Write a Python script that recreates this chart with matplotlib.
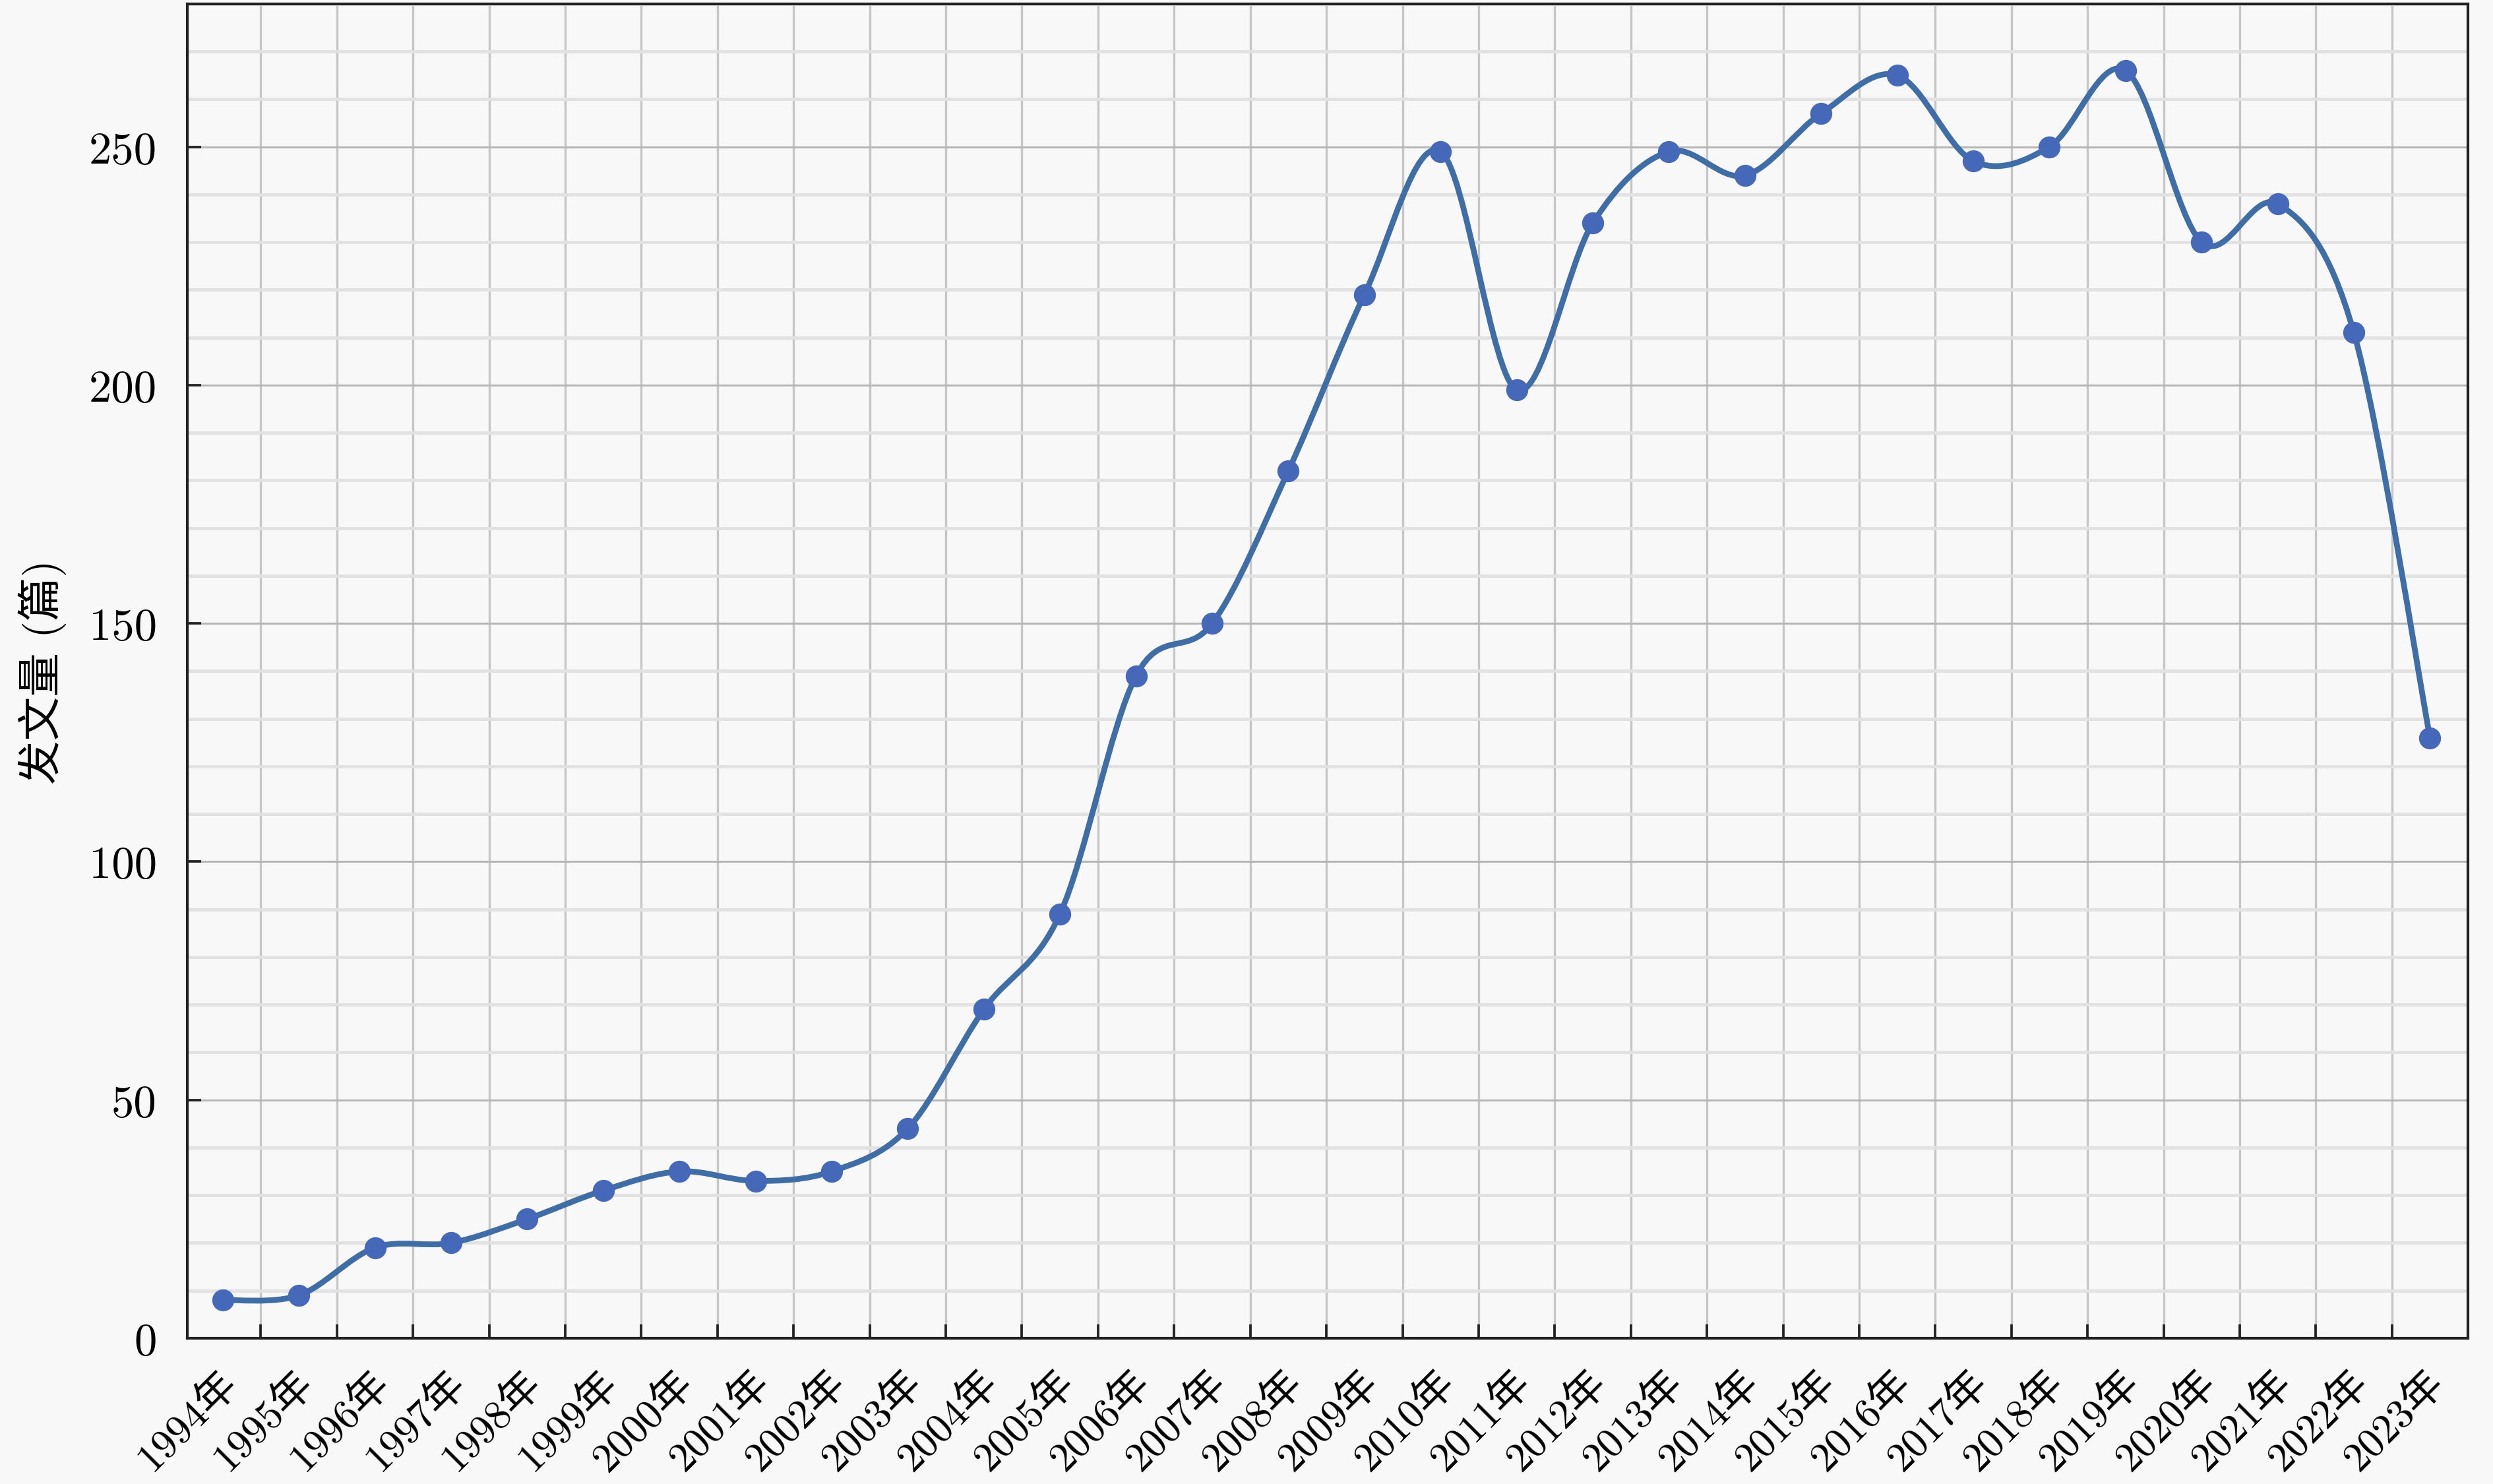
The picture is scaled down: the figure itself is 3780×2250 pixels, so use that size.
import matplotlib
matplotlib.use('Agg')
import matplotlib.pyplot as plt
import matplotlib.transforms as mtransforms
from matplotlib.path import Path
from matplotlib.patches import PathPatch
from matplotlib.ticker import MultipleLocator
import numpy as np

# data
years = list(range(1994, 2024))
year_labels = [f'{y}年' for y in years]
counts = [8, 9, 19, 20, 25, 31, 35, 33, 35, 44,
          69, 89, 139, 150, 182, 219, 249, 199, 234, 249,
          244, 257, 265, 247, 250, 266, 230, 238, 211, 126]

plt.rcParams['font.family'] = ['cmr10', 'Noto Sans CJK SC']

bg = '#f8f8f8'
line_color = '#3f6da6'
marker_color = '#4569b8'

fig = plt.figure(figsize=(12.6, 7.503), dpi=300, facecolor=bg)
ax = fig.add_axes([0.075, 0.0982, 0.915, 0.8988])
ax.set_facecolor(bg)

x = np.arange(len(years))

# smoothed line: Catmull-Rom segments as cubic Bezier curves
pts = np.column_stack([x, counts]).astype(float)
verts = [pts[0]]
codes = [Path.MOVETO]
for i in range(len(pts) - 1):
    p0 = pts[i - 1] if i > 0 else pts[i]
    p1 = pts[i]
    p2 = pts[i + 1]
    p3 = pts[i + 2] if i + 2 < len(pts) else pts[i + 1]
    verts += [p1 + (p2 - p0) / 6, p2 - (p3 - p1) / 6, p2]
    codes += [Path.CURVE4] * 3
ax.add_patch(PathPatch(Path(verts, codes), facecolor='none',
                       edgecolor=line_color, lw=2.1, zorder=3))
ax.plot(x, counts, 'o', ms=8, color=marker_color, mec='none', zorder=4)

ax.set_xlim(-0.47, 29.5)
ax.set_ylim(0, 280)

ax.yaxis.set_major_locator(MultipleLocator(50))
ax.yaxis.set_minor_locator(MultipleLocator(10))

# ticks between categories, labels under the points
ax.set_xticks(x[:-1] + 0.5)
ax.set_xticklabels([])
ax.set_xticks(x, labels=year_labels, minor=True)

ax.tick_params(axis='both', which='major', direction='in', length=5,
               width=0.9, color='#222222')
ax.tick_params(axis='y', which='major', labelsize=16.5, pad=11)
ax.tick_params(axis='y', which='minor', length=0)
ax.tick_params(axis='x', which='minor', length=0, labelsize=15, pad=14)

shift = mtransforms.ScaledTranslation(3 / 72, 0, fig.dpi_scale_trans)
for lbl in ax.get_xticklabels(minor=True):
    lbl.set_rotation(45)
    lbl.set_rotation_mode('anchor')
    lbl.set_ha('right')
    lbl.set_va('center')
    lbl.set_transform(lbl.get_transform() + shift)

ax.grid(which='major', axis='x', color='#c6c6c6', lw=0.8, zorder=0)
ax.grid(which='major', axis='y', color='#b4b4b4', lw=0.7, zorder=0)
ax.grid(which='minor', axis='y', color='#e2e2e2', lw=1.2, zorder=0)
ax.set_axisbelow(True)

for sp in ax.spines.values():
    sp.set_color('#222222')
    sp.set_linewidth(1.0)

ax.set_ylabel('发文量 (篇)', fontsize=16, labelpad=8)

fig.savefig('out.png', dpi=300, facecolor=bg)
